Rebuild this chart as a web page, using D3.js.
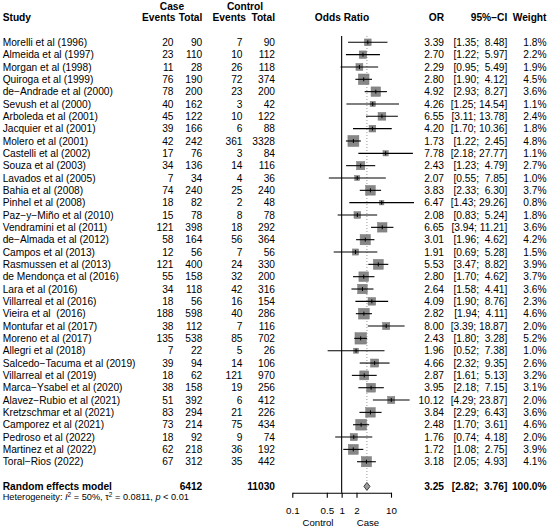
<!DOCTYPE html>
<html><head><meta charset="utf-8">
<script src="https://cdn.jsdelivr.net/npm/d3@7"></script>
<style>
body{margin:0;background:#fff}
svg text{font-family:"Liberation Sans",Arial,sans-serif;fill:#000}
.pre{white-space:pre}
</style></head><body>
<svg id="c" width="548" height="529"></svg>
<script>
const studies = ["Morelli et al (1996)","Almeida et al (1997)","Morgan et al (1998)","Quiroga et al (1999)","de\u2212Andrade et al (2000)","Sevush et al (2000)","Arboleda et al (2001)","Jacquier et al (2001)","Molero et al (2001)","Castelli et al (2002)","Souza et al (2003)","Lavados et al (2005)","Bahia et al (2008)","Pinhel et al (2008)","Paz\u2212y\u2212Miño et al (2010)","Vendramini et al (2011)","de\u2212Almada et al (2012)","Campos et al (2013)","Rasmussen et al (2013)","de Mendonça et al (2016)","Lara et al (2016)","Villarreal et al (2016)","Vieira et al  (2016)","Montufar et al (2017)","Moreno et al (2017)","Allegri et al (2018)","Salcedo\u2212Tacuma et al (2019)","Villarreal et al (2019)","Marca\u2212Ysabel et al (2020)","Alavez\u2212Rubio et al (2021)","Kretzschmar et al (2021)","Camporez et al (2021)","Pedroso et al (2022)","Martinez et al (2022)","Toral\u2212Rios (2022)"];
const caseEvents = [20,23,11,76,78,40,45,39,42,17,34,7,74,18,15,121,58,12,121,55,34,18,188,38,135,7,39,18,38,51,83,73,18,62,67];
const caseTotal = [90,110,28,190,200,162,122,166,242,76,136,34,240,82,78,398,164,56,400,158,118,56,598,112,538,22,94,62,158,392,294,214,92,218,312];
const ctrlEvents = [7,10,26,72,23,3,10,6,361,3,14,4,25,2,8,18,56,7,24,32,42,16,40,7,85,5,14,121,19,6,21,75,9,36,35];
const ctrlTotal = [90,112,118,374,200,42,122,88,3328,84,116,36,240,48,78,292,364,56,330,200,316,154,286,116,702,26,106,970,256,412,226,434,74,192,442];
const orVal = [3.39,2.70,2.29,2.80,4.92,4.26,6.55,4.20,1.73,7.78,2.43,2.07,3.83,6.47,2.08,6.65,3.01,1.91,5.53,2.80,2.64,4.09,2.82,8.00,2.43,1.96,4.66,2.87,3.95,10.12,3.84,2.48,1.76,1.72,3.18];
const ciLow = [1.35,1.22,0.95,1.90,2.93,1.25,3.11,1.70,1.22,2.18,1.23,0.55,2.33,1.43,0.83,3.94,1.96,0.69,3.47,1.70,1.58,1.90,1.94,3.39,1.80,0.52,2.32,1.61,2.18,4.29,2.29,1.70,0.74,1.08,2.05];
const ciHigh = [8.48,5.97,5.49,4.12,8.27,14.54,13.78,10.36,2.45,27.77,4.79,7.85,6.30,29.26,5.24,11.21,4.62,5.28,8.82,4.62,4.41,8.76,4.11,18.87,3.28,7.38,9.35,5.13,7.15,23.87,6.43,3.61,4.18,2.75,4.93];
const weights = [1.8,2.2,1.9,4.5,3.6,1.1,2.4,1.8,4.8,1.1,2.7,1.0,3.7,0.8,1.8,3.6,4.2,1.5,3.9,3.7,3.6,2.3,4.6,2.0,5.2,1.0,2.6,3.2,3.1,2.0,3.6,4.6,2.0,3.9,4.1];
const summary = {label:"Random effects model", caseTotal:6412, ctrlTotal:11030, or:3.25, lo:2.82, hi:3.76, weight:"100.0%"};
const axisTicks = [0.1,0.5,1,2,10];
const axisTickLabels = ["0.1","0.5","1","2","10"];

const svg = d3.select("#c");
const FS = 10.2;
const x = d3.scaleLog().domain([0.1,10]).range([292.3,391]);
const y = d3.scaleLinear().domain([0,36]).range([42.3,486.4]);
const bl = v => v + 0.36*FS;
const f2 = v => v.toFixed(2);
const pad = (s,n) => " ".repeat(Math.max(0,n-s.length)) + s;
const ciStr = (l,h) => "[" + pad(f2(l),4) + "; " + pad(f2(h),5) + "]";

function txt(xx, yy, s, anchor, bold, size){
  return svg.append("text").attr("x",xx).attr("y",yy).attr("text-anchor",anchor||"start")
    .attr("font-size",size||FS).attr("font-weight",bold?"bold":"normal").attr("class","pre").text(s);
}
// headers
txt(172,10,"Case","middle",true);
txt(245,10,"Control","middle",true);
txt(2.7,21.4,"Study","start",true);
txt(175.5,21.4,"Events","end",true);
txt(202.3,21.4,"Total","end",true);
txt(246,21.4,"Events","end",true);
txt(275,21.4,"Total","end",true);
txt(342,21.4,"Odds Ratio","middle",true);
txt(444,21.4,"OR","end",true);
txt(507.3,21.4,"95%\u2212CI","end",true);
txt(546.5,21.4,"Weight","end",true);

// rows
studies.forEach((s,i)=>{
  const yy = bl(y(i));
  txt(2.7,yy,s);
  txt(173.5,yy,String(caseEvents[i]),"end");
  txt(202.3,yy,String(caseTotal[i]),"end");
  txt(242.5,yy,String(ctrlEvents[i]),"end");
  txt(275,yy,String(ctrlTotal[i]),"end");
  txt(444,yy,f2(orVal[i]),"end");
  txt(507.3,yy,ciStr(ciLow[i],ciHigh[i]),"end");
  txt(546.5,yy,weights[i].toFixed(1)+"%","end");
});

// reference lines
svg.append("line").attr("x1",x(1)).attr("x2",x(1)).attr("y1",36).attr("y2",492.7)
  .attr("stroke","#000").attr("stroke-width",1.1);
svg.append("line").attr("x1",x(summary.or)).attr("x2",x(summary.or)).attr("y1",36).attr("y2",y(36)-4)
  .attr("stroke","#999").attr("stroke-width",1).attr("stroke-dasharray","1,2");

// squares + CI
const g = svg.append("g");
studies.forEach((s,i)=>{
  const cy = y(i), side = 5.0*Math.sqrt(weights[i]);
  g.append("rect").attr("x",x(orVal[i])-side/2).attr("y",cy-side/2).attr("width",side).attr("height",side)
    .attr("fill","#878787").attr("stroke","#777").attr("stroke-width",0.5);
  g.append("line").attr("x1",x(ciLow[i])).attr("x2",x(ciHigh[i])).attr("y1",cy).attr("y2",cy)
    .attr("stroke","#000").attr("stroke-width",1.1);
  g.append("line").attr("x1",x(orVal[i])).attr("x2",x(orVal[i])).attr("y1",cy-2).attr("y2",cy+2)
    .attr("stroke","#000").attr("stroke-width",1);
});

// summary
const sy = y(36);
svg.append("path").attr("d",`M${x(summary.lo)},${sy} L${x(summary.or)},${sy-4} L${x(summary.hi)},${sy} L${x(summary.or)},${sy+4} Z`)
  .attr("fill","#9a9a9a").attr("stroke","#333").attr("stroke-width",0.9);
txt(2.7,bl(sy)-0.5,summary.label,"start",true);
txt(202.3,bl(sy)-0.5,String(summary.caseTotal),"end",true);
txt(275,bl(sy)-0.5,String(summary.ctrlTotal),"end",true);
txt(444,bl(sy)-0.5,f2(summary.or),"end",true);
txt(507.3,bl(sy)-0.5,ciStr(summary.lo,summary.hi),"end",true);
txt(546.5,bl(sy)-0.5,summary.weight,"end",true);

// heterogeneity
const het = svg.append("text").attr("x",2.7).attr("y",500).attr("font-size",9.2).attr("class","pre");
het.append("tspan").text("Heterogeneity: ");
het.append("tspan").attr("font-style","italic").text("I");
het.append("tspan").attr("font-size",6.5).attr("dy",-3.5).text("2");
het.append("tspan").attr("dy",3.5).text(" = 50%, \u03c4");
het.append("tspan").attr("font-size",6.5).attr("dy",-3.5).text("2");
het.append("tspan").attr("dy",3.5).text(" = 0.0811, ");
het.append("tspan").attr("font-style","italic").text("p");
het.append("tspan").text(" < 0.01");

// axis
const ax = svg.append("g").attr("transform","translate(0,492.7)")
  .call(d3.axisBottom(x).tickValues(axisTicks).tickFormat((d,i)=>axisTickLabels[i]).tickSize(5).tickSizeOuter(0));
ax.select(".domain").attr("stroke","#000").attr("stroke-width",1.1);
ax.selectAll(".tick line").attr("stroke","#000").attr("stroke-width",1.1);
ax.selectAll(".tick text").attr("font-size",9.8).attr("font-family","Liberation Sans, Arial, sans-serif")
  .attr("fill","#000").attr("dy",0).attr("y",21.5);
txt(318,525.5,"Control","middle",false,9.6);
txt(368,525.5,"Case","middle",false,9.6);
</script></body></html>
